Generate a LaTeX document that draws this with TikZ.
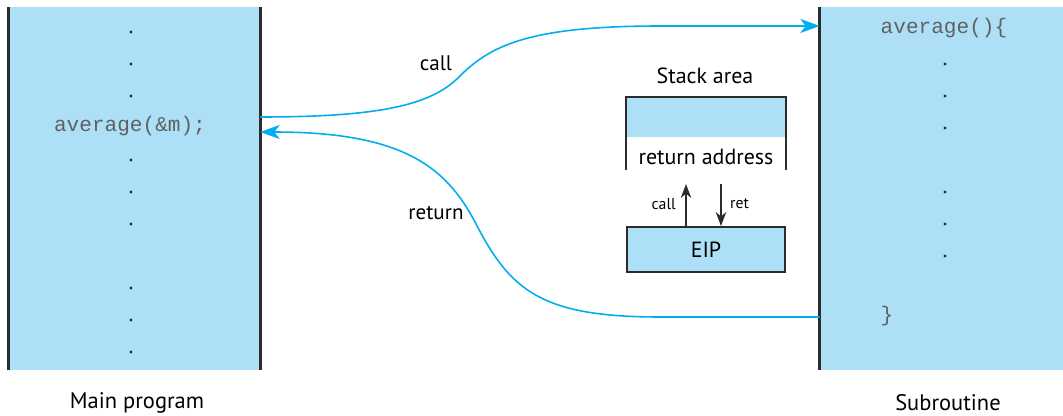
\documentclass[tikz,border=0pt]{standalone}
\usepackage{fontspec}
\setmainfont{PT Sans}
\setmonofont{Liberation Mono}
\usetikzlibrary{arrows.meta,positioning}
\definecolor{PanelBlue}{HTML}{ADE0F7}
\definecolor{FlowCyan}{HTML}{00AEEF}
\definecolor{EdgeGray}{HTML}{2B2B2B}

\begin{document}
\begin{tikzpicture}[x=0.02cm, y=-0.02cm,
  panel/.style={fill=PanelBlue, inner sep=0pt, minimum height=7.26cm},
  edge/.style={EdgeGray, line width=1.7pt},
  slot/.style={draw=EdgeGray, line width=1.1pt, fill=PanelBlue,
               minimum width=3.16cm, inner sep=0pt,
               font=\fontsize{12.5}{14}\selectfont},
  code/.style={font=\ttfamily\fontsize{12}{14}\selectfont, text=black!62},
  lbl/.style={font=\fontsize{12.8}{15}\selectfont},
  minor/.style={font=\fontsize{9}{11}\selectfont},
  flow/.style={FlowCyan, line width=0.9pt,
               -{Stealth[length=11pt,width=8pt,inset=3pt]}},
  tick/.style={EdgeGray, line width=0.6pt, -{Stealth[length=8pt,width=6pt]}}
]
  \useasboundingbox (0,0) rectangle (1063,416);

  % the two program panels
  \node[panel, minimum width=5.02cm] (main) at (134.5,188.5) {};
  \node[panel, minimum width=4.86cm] (sub) at (941.5,188.5) {};
  \draw[edge] (main.north west) -- (main.south west);
  \draw[edge] (main.north east) -- (main.south east);
  \draw[edge] (sub.north west) -- (sub.south west);

  \node[code] (callsite) at (130,126) {average(\&m);};
  \foreach \y in {32,64,96,160,192,224,288,320,352}
    \fill[EdgeGray] (131,\y) circle[radius=0.9pt];

  \node[code] (head) at (944,28) {average()\{};
  \node[code] (tail) at (887,316) {\}};
  \foreach \y in {64,96,128,192,224,256}
    \fill[EdgeGray] (945,\y) circle[radius=0.9pt];

  \node[lbl] (mainlbl) at (137,403) {Main program};
  \node[lbl] (sublbl) at (948,403) {Subroutine};

  % stack area and EIP
  \node[font=\fontsize{12.5}{14}\selectfont] (stktitle) at (705,76) {Stack area};
  \node[slot, draw=none, minimum height=0.78cm] (stk) at (706,117.5) {};
  \node[font=\fontsize{12.5}{14}\selectfont] (retaddr) at (706,157) {return address};
  \draw[EdgeGray, line width=1.1pt]
    ([yshift=-0.64cm]stk.south west) -- (stk.north west)
    -- (stk.north east) -- ([yshift=-0.64cm]stk.south east);
  \node[slot, minimum height=0.9cm] (eip) at (706,249.5) {EIP};

  \draw[tick] ([xshift=-0.4cm]eip.north) -- ++(0,-42);
  \draw[tick] ([xshift=0.3cm,yshift=0.84cm]eip.north) -- ([xshift=0.3cm]eip.north);
  \node[minor, anchor=east] (calltag) at (682,204) {call};
  \node[minor, anchor=west] (rettag) at (724,204) {ret};

  % call and return paths
  \coordinate (callout) at (main.east |- 0,117);
  \coordinate (callin) at (sub.west |- 0,26);
  \coordinate (retout) at (sub.west |- 0,317);
  \coordinate (retin) at (main.east |- 0,132);

  \draw[flow] (callout) .. controls (380,117) and (430,105) .. (458,78)
    .. controls (490,45) and (530,26) .. (660,26) -- (callin);
  \draw[flow] (retout) -- (660,317) .. controls (540,317) and (510,290) .. (475,222)
    .. controls (445,165) and (400,132) .. (retin);

  \node[font=\fontsize{12}{14}\selectfont] (calllbl) at (436,63) {call};
  \node[font=\fontsize{12}{14}\selectfont] (retlbl) at (436,213) {return};
\end{tikzpicture}
\end{document}
